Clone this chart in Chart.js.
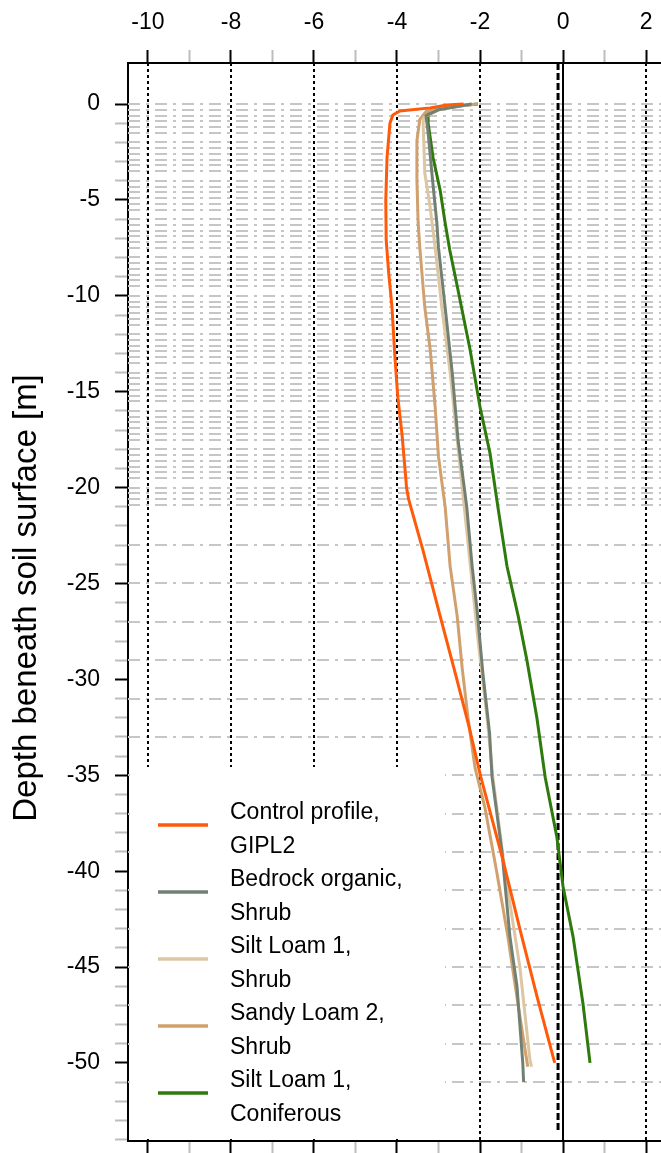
<!DOCTYPE html>
<html>
<head>
<meta charset="utf-8">
<script src="https://cdn.jsdelivr.net/npm/chart.js@4.4.1/dist/chart.umd.min.js"></script>
<style>
  html, body { margin: 0; padding: 0; background: #fff; }
  canvas { display: block; }
</style>
</head>
<body>
<canvas id="perfil" width="661" height="1153"></canvas>
<script>
// Perfis de temperatura (°C) por profundidade (m)
const depthControl = [0, -0.05, -0.2, -0.36, -0.57, -1, -2.8, -5, -7.1, -8.8, -10.6, -13.2, -15.3, -17.2, -19.2, -20, -20.6, -23.3, -26.7, -29.9, -32.5, -35.1, -39.4, -43.1, -46.6, -50];
const tempControl  = [-2.4, -2.8, -3.2, -3.93, -4.1, -4.17, -4.24, -4.27, -4.26, -4.2, -4.12, -4.05, -3.98, -3.88, -3.8, -3.77, -3.72, -3.37, -2.96, -2.57, -2.26, -1.98, -1.45, -1.03, -0.62, -0.2];

const depthBedrock = [0, -0.3, -0.6, -1.5, -3.6, -6.2, -7.5, -10.6, -14, -17.5, -21, -24.1, -26.4, -29.7, -32.8, -35.1, -39, -43.4, -46, -50, -51];
const tempBedrock  = [-2.2, -3.0, -3.3, -3.25, -3.16, -3.04, -3.0, -2.84, -2.67, -2.53, -2.32, -2.19, -2.07, -1.93, -1.77, -1.71, -1.47, -1.28, -1.11, -0.97, -0.95];

const depthSiltShrub = [0, -0.3, -0.7, -1, -3.6, -5.4, -7.5, -10.6, -14, -17.5, -21, -27.9, -32, -35.1, -40, -45, -49.8, -50.2];
const tempSiltShrub  = [-2.2, -3.0, -3.35, -3.37, -3.33, -3.2, -3.08, -2.92, -2.72, -2.55, -2.38, -2.05, -1.83, -1.69, -1.4, -1.04, -0.8, -0.76];

const depthSandy = [0, -0.15, -0.4, -0.8, -1.9, -4, -6.2, -7.5, -10.6, -12.8, -15.8, -18.4, -21, -24.1, -26.7, -29.4, -32, -34.6, -36.7, -40, -43.4, -47, -50.2];
const tempSandy  = [-2.05, -2.7, -3.3, -3.45, -3.52, -3.52, -3.49, -3.45, -3.33, -3.2, -3.08, -3.0, -2.84, -2.72, -2.55, -2.43, -2.29, -2.12, -1.88, -1.6, -1.33, -1.08, -0.85];

const depthConif = [0, -0.1, -0.3, -0.5, -1, -2.8, -4.5, -6.2, -7.6, -9.7, -12.8, -15.8, -18.2, -21, -24.1, -26.7, -29, -32, -35.1, -38.2, -40.8, -43.4, -46.9, -50];
const tempConif  = [-2.05, -2.6, -3.1, -3.25, -3.25, -3.13, -2.96, -2.84, -2.73, -2.53, -2.24, -2.0, -1.76, -1.57, -1.35, -1.08, -0.87, -0.63, -0.43, -0.15, 0.0, 0.24, 0.48, 0.65];

const seriesLabels = [
  ['Control profile,', 'GIPL2'],
  ['Bedrock organic,', 'Shrub'],
  ['Silt Loam 1,', 'Shrub'],
  ['Sandy Loam 2,', 'Shrub'],
  ['Silt Loam 1,', 'Coniferous']
];
const seriesColors = ['#ff5a0a', '#728074', '#dcc7a2', '#d1a06f', '#2f7a0c'];

const xTickLabels = [-10, -8, -6, -4, -2, 0, 2];
const yTickLabels = [0, -5, -10, -15, -20, -25, -30, -35, -40, -45, -50];

// Nós do modelo (linhas horizontais cinza)
const nodeDepths = [];
for (let b = 0; b <= 20; b += 2) {
  [0, 0.3, 0.6, 0.9, 1.2, 1.5].forEach(o => { if (b + o <= 21) nodeDepths.push(-(b + o)); });
}
for (let d = -23; d >= -51; d -= 2) nodeDepths.push(d);

const freezeLine = -0.12;

const fonte = '"Liberation Sans", Arial, sans-serif';

function pares(ds, ts) {
  return ds.map((d, i) => ({ x: ts[i], y: d }));
}

const allDepths = [depthControl, depthBedrock, depthSiltShrub, depthSandy, depthConif];
const allTemps = [tempControl, tempBedrock, tempSiltShrub, tempSandy, tempConif];

const datasets = allDepths.map((ds, i) => ({
  label: seriesLabels[i].join(' '),
  data: pares(ds, allTemps[i]),
  borderColor: seriesColors[i],
  backgroundColor: seriesColors[i],
  borderWidth: 3,
  pointRadius: 0,
  showLine: true,
  tension: 0,
  xAxisID: 'x',
  yAxisID: 'y'
}));

const fundo = {
  id: 'fundo',
  beforeDatasetsDraw(chart) {
    const { ctx, chartArea: a, scales } = chart;
    const x = scales.x, y = scales.y;
    ctx.save();
    ctx.beginPath();
    ctx.rect(a.left, a.top, a.right - a.left, a.bottom - a.top);
    ctx.clip();

    // linhas dos nós
    ctx.strokeStyle = '#c6c6c6';
    ctx.lineWidth = 2;
    ctx.setLineDash([12, 6, 3, 6]);
    nodeDepths.forEach(d => {
      const py = Math.round(y.getPixelForValue(d));
      ctx.beginPath();
      ctx.moveTo(a.left, py);
      ctx.lineTo(a.right, py);
      ctx.stroke();
    });

    // linhas verticais pontilhadas
    ctx.strokeStyle = '#000';
    ctx.setLineDash([3, 3]);
    xTickLabels.forEach(v => {
      if (v === 0) return;
      const px = Math.round(x.getPixelForValue(v));
      ctx.beginPath();
      ctx.moveTo(px, a.top);
      ctx.lineTo(px, a.bottom);
      ctx.stroke();
    });

    // fundo branco da legenda
    ctx.setLineDash([]);
    ctx.fillStyle = '#fff';
    ctx.fillRect(a.left + 2, 767, 445 - a.left - 2, 1139 - 767);

    // linha tracejada perto de zero
    const pf = x.getPixelForValue(freezeLine);
    ctx.strokeStyle = '#000';
    ctx.lineWidth = 3;
    ctx.setLineDash([7, 3]);
    ctx.beginPath();
    ctx.moveTo(pf, a.top);
    ctx.lineTo(pf, y.getPixelForValue(-53.6));
    ctx.stroke();

    // linha sólida em zero
    const p0 = Math.round(x.getPixelForValue(0));
    ctx.lineWidth = 2;
    ctx.setLineDash([]);
    ctx.beginPath();
    ctx.moveTo(p0, a.top);
    ctx.lineTo(p0, a.bottom);
    ctx.stroke();
    ctx.restore();
  },
  afterDraw(chart) {
    const { ctx } = chart;
    ctx.save();
    // legenda
    ctx.font = '23px ' + fonte;
    ctx.fillStyle = '#000';
    ctx.textBaseline = 'middle';
    ctx.textAlign = 'left';
    const top = 813, passo = 67, linha = 34;
    seriesLabels.forEach((txt, i) => {
      const ty = top + i * passo;
      ctx.strokeStyle = seriesColors[i];
      ctx.lineWidth = 3.5;
      ctx.beginPath();
      ctx.moveTo(158, ty + 12);
      ctx.lineTo(208, ty + 12);
      ctx.stroke();
      ctx.fillText(txt[0], 230, ty);
      ctx.fillText(txt[1], 230, ty + linha);
    });
    // título do eixo y
    ctx.translate(27, 598);
    ctx.rotate(-Math.PI / 2);
    ctx.textAlign = 'center';
    ctx.font = '33px ' + fonte;
    ctx.fillText('Depth beneath soil surface [m]', 0, 0);
    ctx.restore();
  }
};

const corTickX = c => (c.tick && Math.abs(c.tick.value % 2) < 1e-6) ? '#000' : '#bdbdbd';
const corTickY = c => {
  if (!c.tick || c.tick.value > 0.01) return 'rgba(0,0,0,0)';
  return Math.abs(c.tick.value % 5) < 1e-6 ? '#000' : '#bdbdbd';
};

function ajustaX(altura) {
  return s => { s.height = altura; s.paddingLeft = 0; s.paddingRight = 0; };
}

new Chart(document.getElementById('perfil'), {
  type: 'scatter',
  data: { datasets },
  options: {
    responsive: false,
    animation: false,
    events: [],
    layout: { padding: 0 },
    plugins: { legend: { display: false }, tooltip: { enabled: false } },
    scales: {
      x: {
        type: 'linear',
        position: 'top',
        min: -10.48,
        max: 2.36,
        afterFit: ajustaX(63),
        border: { display: true, color: '#000', width: 2 },
        grid: { display: true, drawOnChartArea: false, drawTicks: true, tickLength: 13, tickWidth: 2, tickColor: corTickX },
        ticks: {
          stepSize: 1, autoSkip: false, maxRotation: 0, includeBounds: false,
          padding: 14, color: '#000', font: { family: fonte, size: 23 },
          callback: v => xTickLabels.includes(v) ? String(v) : ''
        }
      },
      x2: {
        type: 'linear',
        position: 'bottom',
        min: -10.48,
        max: 2.36,
        afterFit: ajustaX(12),
        border: { display: true, color: '#000', width: 2 },
        grid: { display: true, drawOnChartArea: false, drawTicks: true, tickLength: 12, tickWidth: 2, tickColor: corTickX },
        ticks: { stepSize: 1, autoSkip: false, includeBounds: false, display: false }
      },
      y: {
        type: 'linear',
        position: 'left',
        min: -54.07,
        max: 2.14,
        afterFit: s => { s.width = 128; s.paddingTop = 0; s.paddingBottom = 0; },
        border: { display: true, color: '#000', width: 2 },
        grid: { display: true, drawOnChartArea: false, drawTicks: true, tickLength: 13, tickWidth: 2, tickColor: corTickY },
        ticks: {
          stepSize: 1, autoSkip: false, includeBounds: false,
          padding: 15, color: '#000', font: { family: fonte, size: 23 },
          callback: v => yTickLabels.includes(v) ? String(v) : ''
        }
      }
    }
  },
  plugins: [fundo]
});
</script>
</body>
</html>
